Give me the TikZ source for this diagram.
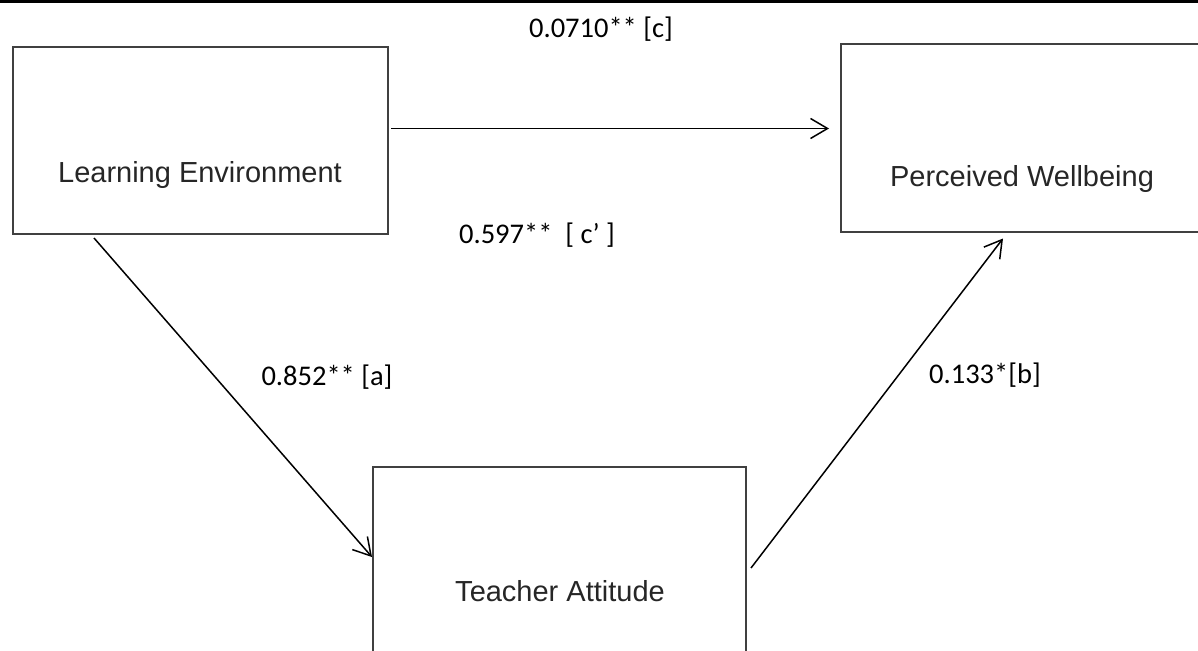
\documentclass[tikz,border=0pt]{standalone}
\usepackage{fontspec}
\newfontfamily\boxfont{Liberation Sans}
\newfontfamily\coeffont{Carlito}
\usetikzlibrary{arrows.meta,positioning}

\begin{document}
\begin{tikzpicture}[
    x=1pt, y=-1pt,
    bx/.style={rectangle, draw=black!75, line width=2pt, inner sep=0pt,
               minimum height=187pt},
    btxt/.style={anchor=base, inner sep=0pt,
                 font=\boxfont\fontsize{29}{34}\selectfont, text=black!85},
    coef/.style={anchor=base, inner sep=0pt,
                 font=\coeffont\fontsize{28.5}{34}\selectfont},
    e/.style={line width=1.5pt, -{Straight Barb[length=17pt, width=20pt, line width=1.5pt]}},
  ]
  \useasboundingbox (0,0) rectangle (1198,650);
  \fill[black] (0,0) rectangle (1198,3.5);

  % boxes
  \node[bx, minimum width=375pt] (le) at (200.5, 140.5) {};
  \node[bx, minimum width=362pt] (pw) at (1022, 138) {};
  \node[bx, minimum width=373pt] (ta) at (559.5, 560.5) {};
  \node[btxt] (letxt) at (200, 182) {Learning Environment};
  \node[btxt] (pwtxt) at (1022, 186) {Perceived Wellbeing};
  \node[btxt] (tatxt) at (560, 601) {Teacher Attitude};

  % coefficients
  \node[coef] (cc) at (601, 38) {0.0710** [c]};
  \node[coef] (cpr) at (537, 243) {0.597**\ \ [ c’ ]};
  \node[coef] (ca) at (327, 385) {0.852** [a]};
  \node[coef] (cb) at (985, 383) {0.133*[b]};

  % paths
  \draw[e, shorten <=2pt, shorten >=11pt] ([yshift=12pt]le.east) -- ([yshift=12pt]le.east -| pw.west);
  \draw[e] ([xshift=82pt, yshift=-3pt]le.south west) -- ([yshift=3.5pt]ta.west);
  \draw[e] ([xshift=4pt, yshift=-7.5pt]ta.east) -- ([xshift=-19pt, yshift=-6pt]pw.south);
\end{tikzpicture}
\end{document}
